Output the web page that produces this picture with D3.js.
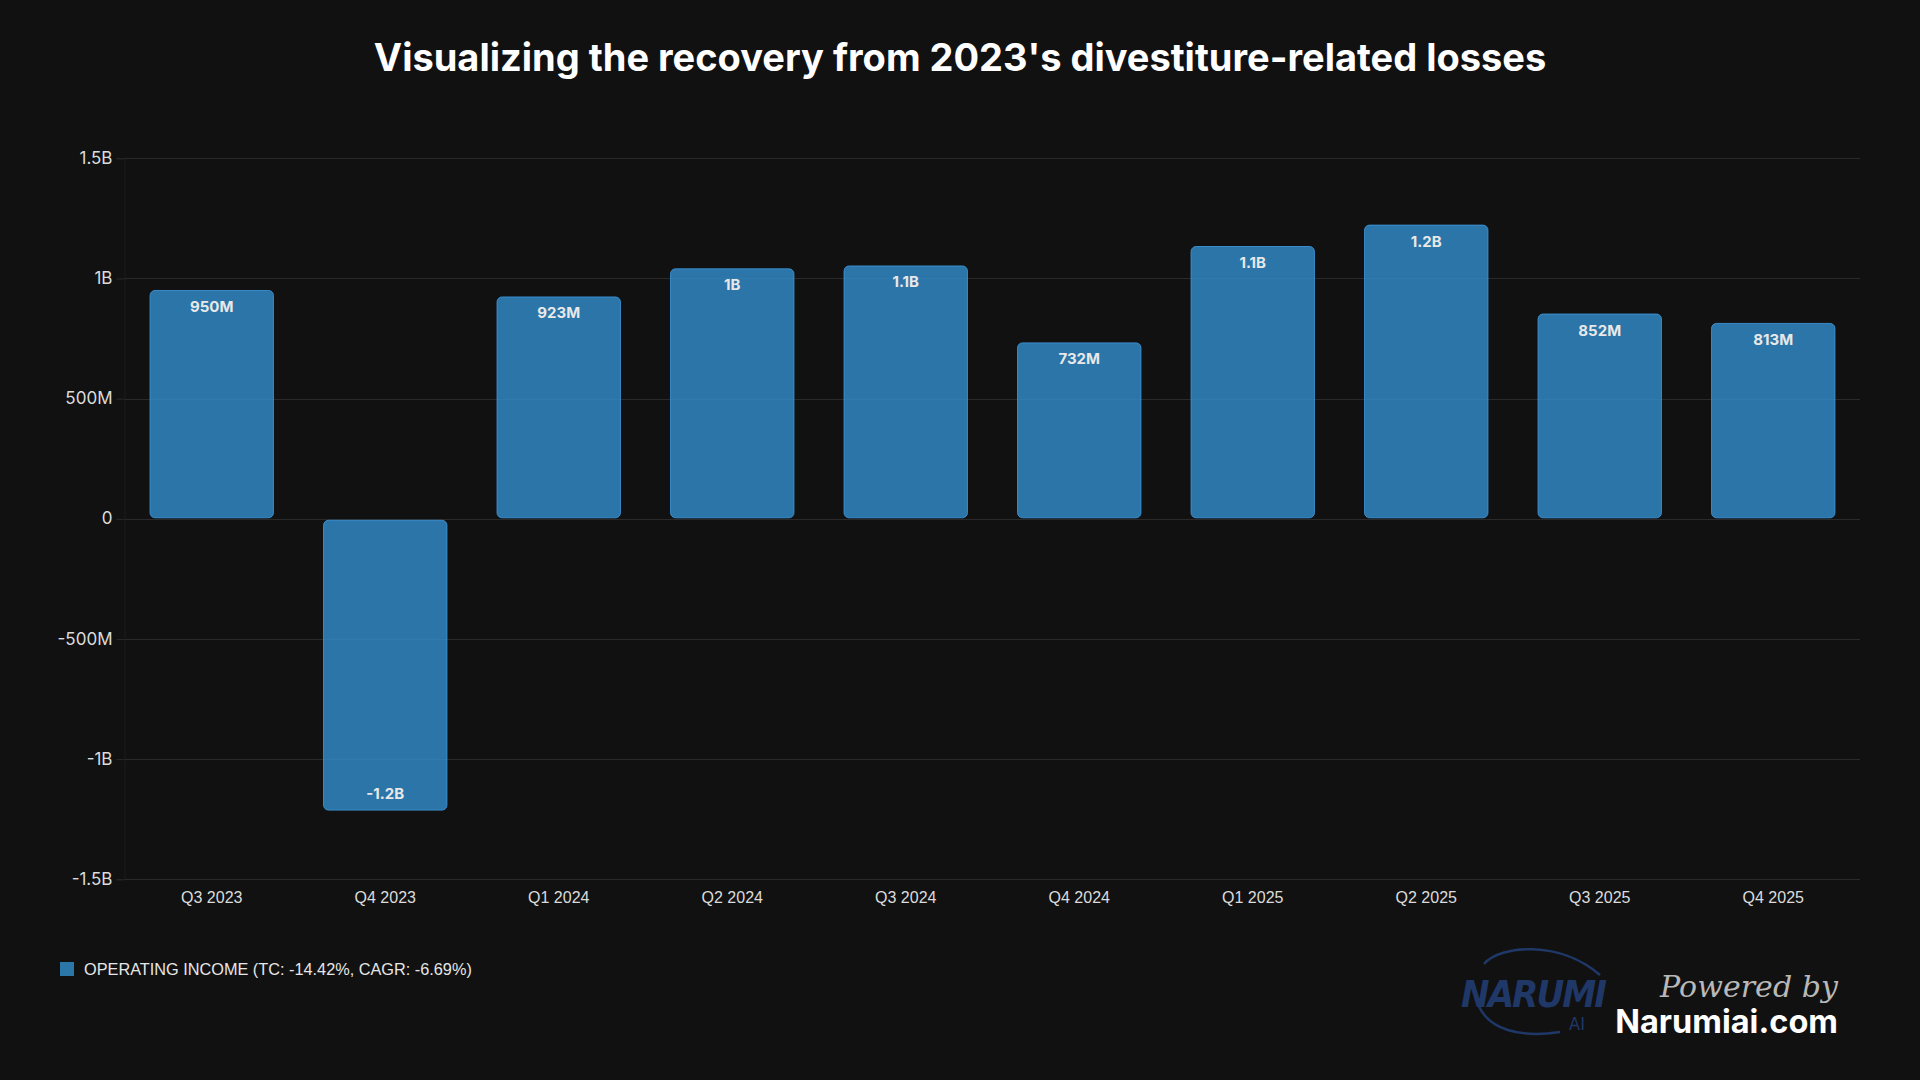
<!DOCTYPE html>
<html>
<head>
<meta charset="utf-8">
<script src="https://cdn.jsdelivr.net/npm/d3@7"></script>
<style>
  html, body { margin: 0; padding: 0; background: #111111; }
  svg { display: block; }
</style>
</head>
<body>
<svg id="chart" width="1920" height="1080"></svg>
<script>
// quarters and operating income (USD)
var quarters = ['Q3 2023', 'Q4 2023', 'Q1 2024', 'Q2 2024', 'Q3 2024',
                'Q4 2024', 'Q1 2025', 'Q2 2025', 'Q3 2025', 'Q4 2025'];
var operatingIncome = [950e6, -1.21e9, 923e6, 1.04e9, 1.052e9,
                       732e6, 1.133e9, 1.222e9, 852e6, 813e6];
var yTicks = [-1.5e9, -1e9, -500e6, 0, 500e6, 1e9, 1.5e9];
var titleText = "Visualizing the recovery from 2023's divestiture-related losses";
var legendText = 'OPERATING INCOME (TC: -14.42%, CAGR: -6.69%)';

var width = 1920,
    height = 1080,
    plotLeft = 125,
    plotRight = 1860,
    plotTop = 158.3,
    plotBottom = 879.3;

var svg = d3.select('#chart');

svg.append('rect')
    .attr('width', width)
    .attr('height', height)
    .attr('fill', '#111111');

function fmt(v) {
    var a = Math.abs(v);
    if (a === 0) return '0';
    if (a >= 1e9) {
        var s = (v / 1e9).toFixed(1).replace(/\.0$/, '');
        return s + 'B';
    }
    return Math.round(v / 1e6) + 'M';
}

var x = d3.scaleBand()
    .domain(quarters)
    .range([plotLeft, plotRight])
    .paddingInner(0.283)
    .paddingOuter(0.1415);

var y = d3.scaleLinear()
    .domain([-1.5e9, 1.5e9])
    .range([plotBottom, plotTop]);

// title
svg.append('text')
    .attr('x', width / 2)
    .attr('y', 57)
    .attr('text-anchor', 'middle')
    .attr('dominant-baseline', 'central')
    .attr('fill', '#ffffff')
    .style('font-family', 'Inter, sans-serif')
    .style('font-weight', 700)
    .style('font-size', '38px')
    .text(titleText);

// grid
var yAxis = d3.axisLeft(y)
    .tickValues(yTicks)
    .tickSize(8)
    .tickPadding(4)
    .tickFormat(fmt);

var gy = svg.append('g')
    .attr('transform', 'translate(' + (plotLeft - 0.5) + ',0)')
    .call(yAxis);
gy.select('.domain').attr('stroke', '#1c1c1c');
gy.selectAll('.tick line').attr('stroke', '#2a2a2a');
gy.selectAll('.tick text')
    .attr('fill', '#dcdcdc')
    .attr('dy', '0.3em')
    .style('font-family', 'Inter, sans-serif')
    .style('font-size', '17px');

svg.append('g')
    .selectAll('line')
    .data(yTicks)
    .join('line')
    .attr('x1', plotLeft)
    .attr('x2', plotRight)
    .attr('y1', function(d) { return Math.round(y(d)) + 0.5; })
    .attr('y2', function(d) { return Math.round(y(d)) + 0.5; })
    .attr('stroke', '#2a2a2a')
    .attr('stroke-width', 1);

// x axis labels
var xAxis = d3.axisBottom(x).tickSize(0).tickPadding(12);
var gx = svg.append('g')
    .attr('transform', 'translate(0,' + plotBottom + ')')
    .call(xAxis);
gx.select('.domain').remove();
gx.selectAll('.tick text')
    .attr('fill', '#dcdcdc')
    .style('font-family', '"Liberation Sans", Arial, sans-serif')
    .style('font-size', '16px');

// bars
svg.append('g')
    .selectAll('rect')
    .data(operatingIncome)
    .join('rect')
    .attr('x', function(d, i) { return x(quarters[i]) + 0.5; })
    .attr('y', function(d) { return d >= 0 ? y(d) : y(0) + 1.5; })
    .attr('width', x.bandwidth() - 1)
    .attr('height', function(d) { return Math.abs(y(d) - y(0)) - 1; })
    .attr('rx', 5)
    .attr('ry', 5)
    .attr('fill', 'rgba(50,142,206,0.8)')
    .attr('stroke', 'rgba(62,152,222,0.85)')
    .attr('stroke-width', 1);

svg.append('g')
    .selectAll('text')
    .data(operatingIncome)
    .join('text')
    .attr('x', function(d, i) { return x(quarters[i]) + x.bandwidth() / 2; })
    .attr('y', function(d) { return d >= 0 ? y(d) + 16 : y(d) - 16; })
    .attr('text-anchor', 'middle')
    .attr('dominant-baseline', 'central')
    .attr('fill', '#e8e8e8')
    .style('font-family', 'Inter, sans-serif')
    .style('font-weight', 700)
    .style('font-size', '15px')
    .text(fmt);

// legend
var legend = svg.append('g').attr('transform', 'translate(60,962)');
legend.append('rect')
    .attr('width', 14)
    .attr('height', 14)
    .attr('fill', '#2b77a8');
legend.append('text')
    .attr('x', 24)
    .attr('y', 7)
    .attr('dominant-baseline', 'central')
    .attr('fill', '#e6e6e6')
    .style('font-family', '"Liberation Sans", Arial, sans-serif')
    .style('font-size', '16.3px')
    .text(legendText);

// watermark
var wm = svg.append('g');
wm.append('path')
    .attr('d', 'M1484,964 C1500,945 1560,940 1600,975')
    .attr('fill', 'none')
    .attr('stroke', '#1f3868')
    .attr('stroke-width', 2.5);
wm.append('path')
    .attr('d', 'M1478,1004 C1488,1030 1520,1038 1560,1032')
    .attr('fill', 'none')
    .attr('stroke', '#1f3868')
    .attr('stroke-width', 2.5);
wm.append('text')
    .attr('x', 1534)
    .attr('y', 1007)
    .attr('text-anchor', 'middle')
    .attr('fill', '#1f3868')
    .attr('textLength', 146)
    .style('font-family', '"DejaVu Sans Condensed", "Liberation Sans", sans-serif')
    .style('font-style', 'italic')
    .style('font-weight', 700)
    .style('font-size', '38px')
    .text('NARUMI');
wm.append('text')
    .attr('x', 1577)
    .attr('y', 1030)
    .attr('text-anchor', 'middle')
    .attr('fill', '#1f3868')
    .style('font-family', '"DejaVu Sans Condensed", "Liberation Sans", sans-serif')
    .style('font-size', '18px')
    .text('AI');
wm.append('text')
    .attr('x', 1838)
    .attr('y', 997)
    .attr('text-anchor', 'end')
    .attr('fill', '#b8b8b8')
    .attr('textLength', 178)
    .style('font-family', '"DejaVu Serif", serif')
    .style('font-style', 'italic')
    .style('font-size', '30px')
    .text('Powered by');
wm.append('text')
    .attr('x', 1838)
    .attr('y', 1033)
    .attr('text-anchor', 'end')
    .attr('fill', '#ffffff')
    .style('font-family', 'Inter, sans-serif')
    .style('font-weight', 700)
    .style('font-size', '32.5px')
    .text('Narumiai.com');
</script>
</body>
</html>
